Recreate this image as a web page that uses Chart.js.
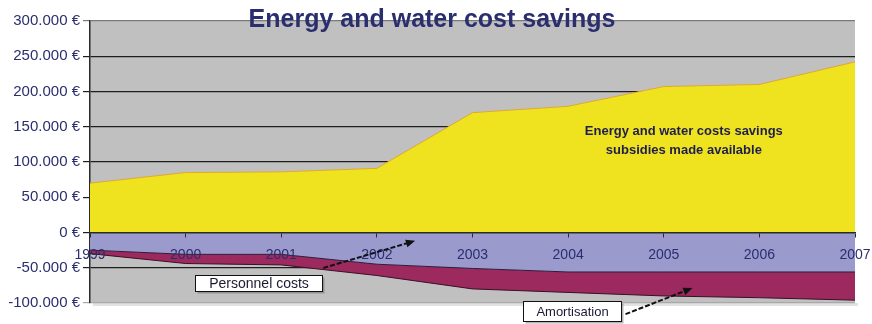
<!DOCTYPE html>
<html>
<head>
<meta charset="utf-8">
<script src="https://cdn.jsdelivr.net/npm/chart.js@4/dist/chart.umd.min.js"></script>
<style>
  html, body { margin: 0; padding: 0; background: #fff; }
  #wrap { width: 872px; height: 324px; }
</style>
</head>
<body>
<div id="wrap"><canvas id="savings" width="872" height="324"></canvas></div>
<script>
'use strict';

// ── Data ─────────────────────────────────────────────────────────────────────

const years        = ['1999', '2000', '2001', '2002', '2003', '2004', '2005', '2006', '2007'];
const savings      = [70000, 85000, 86000, 91000, 170000, 179000, 207000, 210000, 242000];
const personnel    = [-25000, -31000, -31000, -45000, -51000, -56000, -56000, -56000, -56000];
const amortisation = [-5000, -13000, -15000, -16000, -29000, -29000, -34000, -36500, -40000];
const yTicks       = [300000, 250000, 200000, 150000, 100000, 50000, 0, -50000, -100000];

const FONT = '"Liberation Sans", Arial, sans-serif';
const NAVY = '#2a2e6e';

const euro = v => (v < 0 ? '-' : '') +
  Math.abs(v).toString().replace(/\B(?=(\d{3})+(?!\d))/g, '.') + ' €';

// ── Plugins ──────────────────────────────────────────────────────────────────

// grey plot frame behind the grid
const plotFrame = {
  id: 'plotFrame',
  beforeDraw(chart) {
    const { ctx, chartArea: a } = chart;
    ctx.save();
    ctx.fillStyle = '#e2e2e2';
    ctx.fillRect(a.left + 3, a.bottom, a.right - a.left, 3);
    ctx.fillStyle = '#c0c0c0';
    ctx.fillRect(a.left, a.top, a.right - a.left, a.bottom - a.top);
    ctx.restore();
  }
};

// title straddling the top edge, the text inside the yellow area and the two callouts
const callouts = {
  id: 'callouts',
  afterDraw(chart) {
    const { ctx } = chart;
    const x = chart.scales.x, y = chart.scales.y;
    const px = i => x.left + (x.right - x.left) * i / (years.length - 1);
    const py = v => y.getPixelForValue(v);

    ctx.save();
    ctx.textAlign = 'center';
    ctx.textBaseline = 'alphabetic';

    ctx.fillStyle = NAVY;
    ctx.font = 'bold 25px ' + FONT;
    ctx.fillText('Energy and water cost savings', 432, 27);

    ctx.fillStyle = '#1e1e4e';
    ctx.font = 'bold 13px ' + FONT;
    ctx.fillText('Energy and water costs savings', px(6.21), py(138000));
    ctx.fillText('subsidies made available', px(6.21), py(111000));

    const box = (text, i0, i1, v0, v1, size) => {
      const l = Math.round(px(i0)) + 0.5, r = Math.round(px(i1)) + 0.5;
      const t = Math.round(py(v0)) + 0.5, b = Math.round(py(v1)) + 0.5;
      ctx.fillStyle = 'rgba(90,90,90,0.45)';
      ctx.fillRect(l + 2, t + 2, r - l, b - t);
      ctx.fillStyle = '#fff';
      ctx.fillRect(l, t, r - l, b - t);
      ctx.strokeStyle = '#111';
      ctx.lineWidth = 1;
      ctx.strokeRect(l, t, r - l, b - t);
      ctx.fillStyle = '#1a1a33';
      ctx.font = size + 'px ' + FONT;
      ctx.textBaseline = 'middle';
      ctx.fillText(text, (l + r) / 2, (t + b) / 2 + 1);
    };

    const arrow = (i0, v0, i1, v1) => {
      const x0 = px(i0), y0 = py(v0), x1 = px(i1), y1 = py(v1);
      const ang = Math.atan2(y1 - y0, x1 - x0);
      ctx.strokeStyle = '#111';
      ctx.fillStyle = '#111';
      ctx.lineWidth = 2;
      ctx.setLineDash([5, 2]);
      ctx.beginPath();
      ctx.moveTo(x0, y0);
      ctx.lineTo(x1 - 6 * Math.cos(ang), y1 - 6 * Math.sin(ang));
      ctx.stroke();
      ctx.setLineDash([]);
      ctx.beginPath();
      ctx.moveTo(x1, y1);
      ctx.lineTo(x1 - 10 * Math.cos(ang - 0.4), y1 - 10 * Math.sin(ang - 0.4));
      ctx.lineTo(x1 - 10 * Math.cos(ang + 0.4), y1 - 10 * Math.sin(ang + 0.4));
      ctx.closePath();
      ctx.fill();
    };

    arrow(2.44, -50300, 3.40, -11800);
    box('Personnel costs', 1.10, 2.43, -60300, -83000, 14);

    arrow(5.60, -115800, 6.30, -78800);
    box('Amortisation', 4.53, 5.55, -97300, -125800, 13);

    ctx.restore();
  }
};

// ── Chart ────────────────────────────────────────────────────────────────────

const shared = { pointRadius: 0, tension: 0, borderWidth: 1 };

new Chart(document.getElementById('savings'), {
  type: 'line',
  data: {
    labels: years,
    datasets: [
      {
        ...shared,
        label: 'Energy and water costs savings subsidies made available',
        data: savings,
        borderColor: '#e0a830',
        backgroundColor: '#efe31f',
        fill: 'origin'
      },
      {
        ...shared,
        label: 'Personnel costs',
        data: personnel,
        borderColor: '#2c1c3c',
        backgroundColor: '#9a9acd',
        fill: 'origin'
      },
      {
        ...shared,
        label: 'Amortisation',
        data: amortisation,
        borderColor: '#3a1024',
        backgroundColor: '#9c2a5e',
        fill: 1
      }
    ]
  },
  options: {
    responsive: false,
    animation: false,
    layout: { padding: { left: 0, right: 17, top: 21, bottom: 21 } },
    plugins: {
      legend: { display: false },
      title: { display: false },
      tooltip: { enabled: false }
    },
    scales: {
      x: {
        // category axis sits on the zero line, drawn over the filled areas
        position: { y: 0 },
        offset: false,
        afterFit(scale) { scale.paddingLeft = 0; scale.paddingRight = 0; },
        border: { display: true, color: '#2a2a2a', width: 1.5, z: 1 },
        grid: { drawOnChartArea: false, drawTicks: true, tickLength: 4, color: '#2a2a2a', z: 1 },
        ticks: { color: NAVY, padding: 10, maxRotation: 0, autoSkip: false, z: 1, font: { family: FONT, size: 14 } }
      },
      y: {
        stacked: true,
        min: -100000,
        max: 300000,
        afterFit(scale) { scale.width = 90; },
        afterBuildTicks(scale) { scale.ticks = yTicks.map(v => ({ value: v })); },
        border: { display: true, color: '#2a2a2a', width: 1.5 },
        grid: {
          tickLength: 7,
          color: ctx => ctx.tick && ctx.tick.value === 300000 ? '#7a7a7a'
                      : ctx.tick && ctx.tick.value === -100000 ? '#a8a8a8' : '#1e1e1e',
          lineWidth: 1.2
        },
        ticks: {
          color: NAVY,
          padding: 3,
          font: { family: FONT, size: 15 },
          callback: v => euro(v)
        }
      }
    }
  },
  plugins: [plotFrame, callouts]
});
</script>
</body>
</html>
